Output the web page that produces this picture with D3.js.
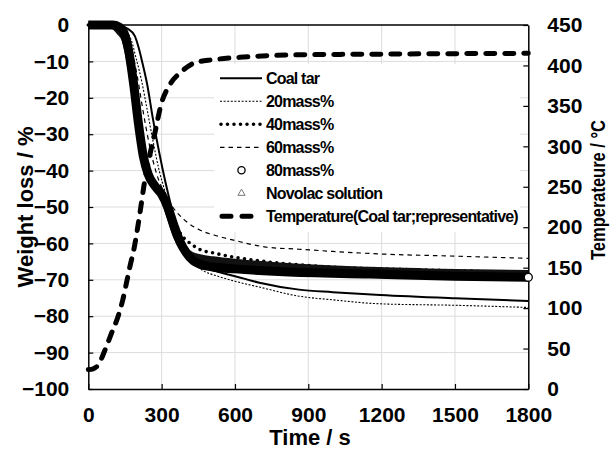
<!DOCTYPE html>
<html><head><meta charset="utf-8">
<script src="https://cdn.jsdelivr.net/npm/d3@7"></script>
<style>
html,body{margin:0;padding:0;background:#fff;}
svg{display:block;font-family:"Liberation Sans",Arial,sans-serif;font-weight:bold;}
</style></head>
<body>
<svg id="chart" width="614" height="452"></svg>
<script>
// ---- data ----
const xTicks = [0, 300, 600, 900, 1200, 1500, 1800];
const yTicks = [0, -10, -20, -30, -40, -50, -60, -70, -80, -90, -100];
const tTicks = [0, 50, 100, 150, 200, 250, 300, 350, 400, 450];

const coaltarT = [0,130,160,190,205,220,240,265,290,315,340,370,400,430,470,520,600,700,862,1000,1194,1500,1800];
const coaltarW = [0,-0.3,-1,-3,-6,-10,-16,-26,-35,-43,-50,-57,-61.5,-64.3,-66.3,-67.6,-69,-70.8,-72.7,-73.4,-74.2,-75.1,-75.8];

const m20T = [0,120,150,175,195,217,240,265,290,315,340,370,400,430,470,520,600,700,862,1000,1194,1500,1800];
const m20W = [-0.3,-0.5,-1.5,-4,-9,-15,-23,-32,-40,-46,-52,-58,-62.5,-65.3,-67.5,-68.8,-70.4,-72,-74.5,-75.5,-76.6,-77,-77.6];

const m40T = [0,110,135,160,180,200,220,245,275,305,335,365,395,415,460,510,590,700,862,1000,1200,1500,1800];
const m40W = [0,-0.5,-2,-7,-15,-25,-33,-40,-44,-47.5,-52,-56,-58.8,-59.9,-61.8,-62.6,-63.7,-64.8,-65.9,-66.5,-67,-67.5,-68];

const m60T = [0,125,150,175,200,225,250,280,310,345,394,456,530,600,726,862,1000,1194,1500,1800];
const m60W = [0,-0.5,-2,-6,-14,-24,-33,-41,-46,-50,-53.6,-56.3,-58,-59.2,-61,-61.6,-62.2,-62.9,-63.5,-64.1];

const m80T = [0,100,125,145,165,185,205,225,245,270,300,325,350,375,400,430,460,510,600,800,1150,1500,1800];
const m80W = [0,0,-0.5,-2,-7,-16,-27,-36,-41,-44,-46.5,-50,-55,-59.5,-62.5,-64.8,-65.8,-66.5,-67,-67.8,-68.4,-69,-69.3];

const novT = [0,90,110,130,150,170,190,205,220,235,260,290,310,335,360,390,420,460,510,600,800,1150,1500,1800];
const novW = [0,0,-0.5,-2,-4,-10,-19,-27,-34,-39,-43,-45.5,-48,-53,-58,-61.5,-63.2,-64,-64.5,-65.2,-66.3,-67.4,-68,-68.3];

const tempT = [0,20,41,68,95,121,141,156,170,186,211,228,250,272,299,333,380,434,508,618,834,1200,1800];
const tempC = [24,25,30,48,69,89,110,131,151,172,217,252,287,316,353,376,392,403,407,410,413,414,415];

const legendLabels = ["Coal tar","20mass%","40mass%","60mass%","80mass%","Novolac solution","Temperature(Coal tar;representative)"];

// ---- scales ----
const svg = d3.select("#chart");
const x = d3.scaleLinear().domain([0,1800]).range([88.3,528.3]);
const y = d3.scaleLinear().domain([-100,0]).range([389,25]);
const yT = d3.scaleLinear().domain([0,450]).range([389,25]);

// gridlines
const grid = svg.append("g").attr("stroke","#dcdcdc").attr("stroke-width",1);
grid.selectAll(".gy").data(yTicks.filter(v=>v>-100 && v<0)).enter().append("line")
  .attr("x1",x(0)).attr("x2",x(1800)).attr("y1",d=>y(d)).attr("y2",d=>y(d));
grid.selectAll(".gx").data(xTicks.filter(v=>v>0 && v<1800)).enter().append("line")
  .attr("y1",y(0)).attr("y2",y(-100)).attr("x1",d=>x(d)).attr("x2",d=>x(d));

// legend background
svg.append("rect").attr("x",214).attr("y",64).attr("width",306).attr("height",168).attr("fill","#fff");

function series(ts, vs, sc){ return ts.map((t,i)=>[x(t), sc(vs[i])]); }
const line = d3.line().curve(d3.curveMonotoneX);

// temperature curve
svg.append("path").attr("d", line(series(tempT,tempC,yT)))
  .attr("fill","none").attr("stroke","#000").attr("stroke-width",5)
  .attr("stroke-dasharray","9 10").attr("stroke-linecap","round");

// weight curves
svg.append("path").attr("d", line(series(m60T,m60W,y)))
  .attr("fill","none").attr("stroke","#000").attr("stroke-width",1.2).attr("stroke-dasharray","4.5 4");
svg.append("path").attr("d", line(series(m40T,m40W,y)))
  .attr("fill","none").attr("stroke","#000").attr("stroke-width",3.6)
  .attr("stroke-dasharray","0 6.5").attr("stroke-linecap","round");
svg.append("path").attr("d", line(series(novT,novW,y)))
  .attr("fill","none").attr("stroke","#111").attr("stroke-width",7).attr("stroke-linejoin","round");
svg.append("path").attr("d", line(series(m80T,m80W,y)))
  .attr("fill","none").attr("stroke","#000").attr("stroke-width",9).attr("stroke-linejoin","round");
svg.append("path").attr("d", line(series(coaltarT,coaltarW,y)))
  .attr("fill","none").attr("stroke","#000").attr("stroke-width",2);
svg.append("path").attr("d", line(series(m20T,m20W,y)))
  .attr("fill","none").attr("stroke","#000").attr("stroke-width",1.1).attr("stroke-dasharray","2 1.6");

// axes
function styleAxis(g){
  g.select(".domain").attr("stroke","#000").attr("stroke-width",1.5);
  g.selectAll(".tick line").attr("stroke","#000").attr("stroke-width",1.2);
  g.selectAll("text").attr("font-size",21).attr("font-weight","bold")
    .attr("font-family","'Liberation Sans',Arial,sans-serif").attr("fill","#000");
}
svg.append("g").attr("transform",`translate(${x(0)},0)`)
  .call(d3.axisLeft(y).tickValues(yTicks).tickSize(-5).tickSizeOuter(0).tickPadding(19).tickFormat(d3.format("d")))
  .call(styleAxis).attr("font-family",null).attr("font-size",null);
svg.append("g").attr("transform",`translate(0,${y(-100)})`)
  .call(d3.axisBottom(x).tickValues(xTicks).tickSize(-5).tickSizeOuter(0).tickPadding(18).tickFormat(d3.format("d")))
  .call(styleAxis);
svg.append("g").attr("transform",`translate(${x(1800)},0)`)
  .call(d3.axisRight(yT).tickValues(tTicks).tickSize(-5).tickSizeOuter(0).tickPadding(19).tickFormat(d3.format("d")))
  .call(styleAxis);
svg.append("line").attr("x1",x(0)).attr("x2",x(1800)).attr("y1",y(0)).attr("y2",y(0))
  .attr("stroke","#000").attr("stroke-width",1.5);

// last 80mass% marker
svg.append("circle").attr("cx",x(m80T[m80T.length-1])).attr("cy",y(m80W[m80W.length-1]))
  .attr("r",4).attr("fill","#fff").attr("stroke","#000").attr("stroke-width",1.3);

// axis titles
svg.append("text").attr("transform","translate(33,207) rotate(-90)").attr("text-anchor","middle")
  .attr("font-size",22).text("Weight loss / %");
svg.append("text").attr("x",310).attr("y",445).attr("text-anchor","middle")
  .attr("font-size",22).text("Time / s");
svg.append("text").attr("transform","translate(605,190) rotate(-90)").attr("text-anchor","middle")
  .attr("font-size",21).attr("textLength",140).attr("lengthAdjust","spacingAndGlyphs").text("Temperateure / °C");

// legend
const lg = svg.append("g");
const ly0 = 78.3, lstep = 23, lx1 = 220, lx2 = 262;
legendLabels.forEach((lab,i)=>{
  const yy = ly0 + i*lstep;
  lg.append("text").attr("x",266).attr("y",yy).attr("dy","0.36em").attr("font-size",16)
    .attr("letter-spacing",-0.8).text(lab);
});
const ry = i => ly0 + i*lstep;
lg.append("line").attr("x1",lx1).attr("x2",lx2).attr("y1",ry(0)).attr("y2",ry(0)).attr("stroke","#000").attr("stroke-width",2);
lg.append("line").attr("x1",lx1).attr("x2",lx2).attr("y1",ry(1)).attr("y2",ry(1)).attr("stroke","#000").attr("stroke-width",1.1).attr("stroke-dasharray","2 1.6");
lg.append("line").attr("x1",lx1+1).attr("x2",lx2).attr("y1",ry(2)).attr("y2",ry(2)).attr("stroke","#000").attr("stroke-width",3.6).attr("stroke-dasharray","0 6.5").attr("stroke-linecap","round");
lg.append("line").attr("x1",lx1).attr("x2",lx2).attr("y1",ry(3)).attr("y2",ry(3)).attr("stroke","#000").attr("stroke-width",1.2).attr("stroke-dasharray","4.5 4");
lg.append("circle").attr("cx",241.5).attr("cy",ry(4)).attr("r",3.6).attr("fill","#fff").attr("stroke","#000").attr("stroke-width",1.3);
lg.append("path").attr("d",d3.symbol(d3.symbolTriangle,22)()).attr("transform",`translate(241.5,${ry(5)})`)
  .attr("fill","#fff").attr("stroke","#777").attr("stroke-width",1);
lg.append("line").attr("x1",lx1+2).attr("x2",lx2).attr("y1",ry(6)).attr("y2",ry(6)).attr("stroke","#000").attr("stroke-width",5).attr("stroke-dasharray","9 11").attr("stroke-linecap","round");
</script>
</body></html>
